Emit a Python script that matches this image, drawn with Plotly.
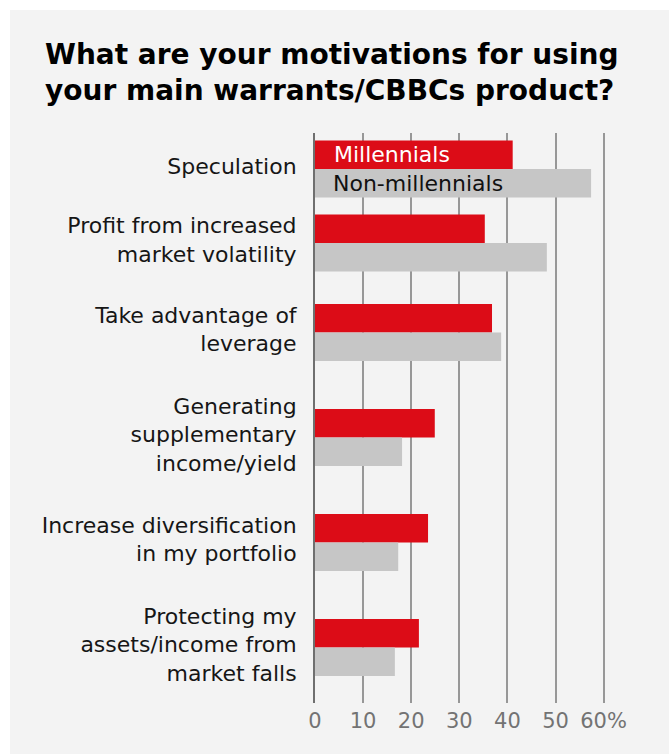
import plotly.graph_objects as go

# Survey answers, per cent of respondents
categories = [
    "Speculation",
    "Profit from increased<br>market volatility",
    "Take advantage of<br>leverage",
    "Generating<br>supplementary<br>income/yield",
    "Increase diversification<br>in my portfolio",
    "Protecting my<br>assets/income from<br>market falls",
]
millennials = [41.1, 35.3, 36.8, 24.9, 23.5, 21.6]
non_millennials = [57.4, 48.2, 38.7, 18.1, 17.3, 16.6]
x_ticks = [0, 10, 20, 30, 40, 50, 60]
x_tick_labels = ["0", "10", "20", "30", "40", "50", "60%"]

RED = "#dc0c17"
GREY = "#c6c6c6"
PANEL = "#f3f3f3"

W, H = 669, 754
M_L, M_R, M_T, M_B = 315, 20, 133, 51
PLOT_W = W - M_L - M_R
PLOT_H = H - M_T - M_B
PX_PER_UNIT = 4.81  # horizontal scale: pixels per percentage point

# Rows get taller when their label wraps onto more lines
BAR_H = 28.5
n_lines = [c.count("<br>") + 1 for c in categories]
half_row = [13.75 + 15.5 * n for n in n_lines]
centers = [36.0]
for i in range(1, len(categories)):
    centers.append(centers[-1] + half_row[i - 1] + half_row[i])

fig = go.Figure()
fig.add_trace(go.Bar(
    y=centers, x=millennials, orientation="h", name="Millennials",
    marker=dict(color=RED, line=dict(width=0)),
    width=BAR_H, offset=-BAR_H,
))
fig.add_trace(go.Bar(
    y=centers, x=non_millennials, orientation="h", name="Non-millennials",
    marker=dict(color=GREY, line=dict(width=0)),
    width=BAR_H, offset=0,
))

# Series names written inside the first pair of bars
fig.add_annotation(x=0, y=centers[0] - BAR_H / 2, xref="x", yref="y",
                   text="Millennials", showarrow=False, xanchor="left",
                   xshift=17, font=dict(family="DejaVu Sans", size=22, color="white"))
fig.add_annotation(x=0, y=centers[0] + BAR_H / 2, xref="x", yref="y",
                   text="Non-millennials", showarrow=False, xanchor="left",
                   xshift=16, font=dict(family="DejaVu Sans", size=22, color="#111111"))

# Light grey panel behind everything, inset from the top-left corner
fig.add_shape(type="rect", xref="paper", yref="paper", layer="below",
              x0=(10 - M_L) / PLOT_W, x1=(W - M_L) / PLOT_W,
              y0=(H - M_B - H) / PLOT_H, y1=(H - M_B - 10) / PLOT_H,
              fillcolor=PANEL, line=dict(width=0))

fig.update_layout(
    width=W, height=H,
    margin=dict(l=M_L, r=M_R, t=M_T, b=M_B),
    paper_bgcolor="white",
    plot_bgcolor="rgba(0,0,0,0)",
    barmode="overlay",
    showlegend=False,
    title=dict(
        text="What are your motivations for using<br>your main warrants/CBBCs product?",
        x=45 / W, xref="container", xanchor="left",
        y=1 - 64 / H, yref="container", yanchor="top",
        font=dict(family="DejaVu Sans", size=28, color="black", weight="bold"),
    ),
    xaxis=dict(
        range=[0, PLOT_W / PX_PER_UNIT],
        tickvals=x_ticks, ticktext=x_tick_labels,
        showgrid=True, gridcolor="#979797", gridwidth=1.5,
        zeroline=False, showline=False, ticks="",
        tickfont=dict(family="DejaVu Sans", size=21, color="#737373"),
        ticklabelstandoff=3,
        fixedrange=True,
    ),
    yaxis=dict(
        range=[PLOT_H, 0],
        tickvals=centers, ticktext=categories,
        showgrid=False, zeroline=False,
        showline=True, linecolor="#6f6f6f", linewidth=2,
        ticks="", ticklabelstandoff=12, ticklabelshift=3,
        tickfont=dict(family="DejaVu Sans", size=22, color="#161616"),
        fixedrange=True,
    ),
)

fig.write_html("out.html")
